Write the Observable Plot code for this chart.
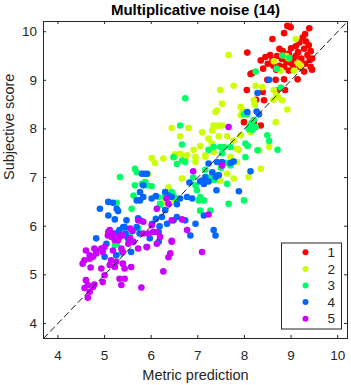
<!DOCTYPE html>
<html><head><meta charset="utf-8">
<script src="https://cdn.jsdelivr.net/npm/d3@7"></script>
<script src="https://cdn.jsdelivr.net/npm/@observablehq/plot@0.6"></script>
<style>body{margin:0;background:#fff;} svg{display:block;}</style>
</head><body><div id="chart"></div>
<script>
const title = "Multiplicative noise (14)";
const xLabel = "Metric prediction";
const yLabel = "Subjective score";
const categories = ["1","2","3","4","5"];
const colors = ["#ff0000","#ccff00","#00ff66","#0066ff","#cc00ff"];
const xTicks = [4,5,6,7,8,9,10];
const yTicks = [4,5,6,7,8,9,10];
const axisLimits = [3.69, 10.21];

const series1 = [[8.92,10.12],[8.99,10.09],[8.85,9.97],[9.39,10.07],[8.60,9.85],[9.30,9.95],[9.25,9.88],[9.32,9.80],[9.18,9.78],[9.38,9.72],[9.10,9.70],[9.00,9.66],[9.28,9.65],[9.42,9.60],[9.15,9.58],[8.06,9.57],[8.95,9.55],[9.35,9.52],[8.55,9.52],[8.45,9.48],[8.70,9.50],[8.80,9.44],[9.05,9.45],[9.22,9.45],[9.40,9.42],[8.90,9.38],[9.00,9.35],[9.15,9.36],[9.30,9.34],[8.35,9.41],[8.50,9.34],[8.62,9.30],[8.75,9.30],[8.85,9.28],[9.05,9.28],[9.20,9.27],[9.42,9.28],[9.45,9.22],[8.68,9.22],[8.95,9.20],[9.28,9.18],[8.40,9.24],[8.17,9.15],[8.49,9.01],[8.67,9.01],[8.85,9.02],[9.14,9.02],[8.05,8.80],[8.69,8.79],[8.87,8.80],[8.39,8.76],[8.25,8.60],[8.42,8.59],[8.20,8.14],[8.35,8.07],[7.99,8.14],[8.13,9.13],[8.75,9.65],[8.60,9.42],[9.45,9.45],[9.10,9.50],[8.82,9.60]];
const series2 = [[9.10,9.85],[7.66,9.52],[8.63,9.39],[9.06,9.20],[9.21,9.30],[8.78,9.20],[8.90,9.50],[8.95,9.45],[9.15,9.35],[8.24,8.89],[7.77,8.89],[7.48,8.80],[8.38,8.86],[8.63,8.80],[8.68,8.70],[8.62,8.60],[8.81,8.59],[8.72,8.65],[7.52,8.52],[7.41,8.38],[7.38,8.35],[8.20,8.59],[8.22,8.50],[7.92,8.45],[7.95,8.40],[8.92,8.40],[8.67,8.14],[7.45,8.07],[7.52,8.07],[7.34,8.07],[7.31,7.97],[7.23,7.80],[7.45,7.85],[7.63,7.85],[7.77,7.76],[7.92,7.87],[7.84,7.59],[7.34,7.52],[7.16,7.43],[8.53,7.63],[8.13,7.93],[7.88,7.57],[7.92,8.28],[6.44,8.02],[6.80,8.02],[6.62,7.85],[7.09,7.93],[7.38,8.06],[6.91,7.57],[6.51,7.48],[6.26,7.39],[6.73,7.39],[6.01,7.40],[6.08,7.30],[6.48,7.42],[6.62,7.49],[6.77,7.46],[6.95,7.42],[7.16,7.46],[6.95,7.32],[7.70,7.42],[7.84,7.32],[8.31,7.56],[8.35,7.18],[6.66,6.98],[7.48,6.94],[5.89,7.07],[5.93,7.07],[6.37,6.80],[6.30,6.50],[6.51,6.53],[7.63,7.08],[7.77,6.98],[8.09,7.01],[7.05,7.65],[7.30,7.70]];
const series3 = [[8.81,9.51],[8.96,9.46],[8.69,9.24],[8.24,9.18],[8.78,8.85],[6.73,8.63],[8.06,8.31],[8.20,8.19],[8.13,8.07],[8.24,8.04],[8.09,8.00],[7.99,8.30],[8.15,8.12],[8.17,7.98],[6.62,8.07],[8.49,7.87],[8.53,7.75],[8.28,7.56],[8.71,7.57],[7.48,7.63],[7.56,7.63],[7.23,7.57],[8.02,7.70],[8.02,7.42],[6.66,7.68],[7.34,7.63],[7.52,7.50],[7.70,7.63],[6.48,7.42],[6.55,7.28],[6.66,7.35],[6.73,7.32],[5.65,7.18],[5.69,7.11],[5.33,7.01],[5.87,6.91],[5.91,6.84],[5.65,6.84],[5.62,6.63],[5.58,6.36],[5.26,6.48],[6.19,6.46],[6.44,6.70],[6.48,6.62],[6.55,6.55],[6.95,6.84],[6.98,6.74],[7.05,6.60],[7.13,6.53],[7.02,6.53],[7.05,6.32],[7.27,6.32],[7.16,7.16],[7.25,7.00],[7.35,6.95],[7.40,7.05],[7.63,6.87],[7.99,6.53],[7.66,6.46],[5.80,6.87],[6.01,6.82],[6.19,6.43],[5.22,5.61],[5.72,5.96],[5.54,5.81],[5.36,5.44],[5.26,5.64],[7.50,7.20],[7.60,7.30],[7.70,7.25],[8.07,7.65],[6.90,7.00],[6.15,6.60],[6.30,6.60]];
const series4 = [[8.53,9.01],[8.28,8.74],[8.26,8.36],[8.31,8.30],[8.06,8.35],[7.23,7.29],[7.41,7.32],[7.52,7.32],[7.77,7.33],[7.31,7.11],[7.38,7.01],[7.45,7.05],[7.23,6.92],[7.13,6.87],[7.05,6.92],[8.13,7.13],[7.88,6.72],[7.40,6.74],[6.82,6.90],[5.80,7.08],[5.85,7.08],[5.91,7.08],[5.83,6.84],[5.76,6.70],[5.08,6.50],[5.18,6.48],[5.26,6.36],[5.29,6.31],[4.90,6.36],[5.08,6.22],[5.22,6.14],[5.69,6.53],[5.76,6.53],[5.83,6.60],[6.01,6.57],[6.10,6.62],[6.30,6.70],[6.37,6.63],[6.44,6.60],[6.62,6.57],[6.77,6.60],[6.88,6.57],[6.30,6.33],[6.23,6.19],[6.34,6.05],[6.02,6.05],[6.10,6.15],[6.18,6.00],[5.72,6.16],[5.76,6.12],[5.69,5.98],[5.47,6.12],[5.40,5.98],[5.20,5.85],[5.30,5.88],[5.45,5.85],[6.73,6.12],[6.55,6.19],[6.48,6.12],[6.95,6.05],[7.13,6.22],[7.34,5.92],[7.38,5.81],[6.84,5.81],[6.16,5.88],[4.82,5.75],[5.32,5.92],[5.43,5.98],[5.50,5.75],[5.90,5.57],[5.57,5.47],[5.25,5.40],[5.00,5.37],[4.82,5.50],[5.97,5.75],[5.75,5.85],[5.04,5.64],[6.16,5.68],[7.09,6.94],[7.16,7.01],[7.70,7.30],[6.55,6.45]];
const series5 = [[7.66,8.04],[6.90,7.13],[7.52,7.25],[6.33,6.57],[6.12,6.36],[6.66,6.14],[7.23,6.24],[6.77,5.92],[6.44,5.70],[6.37,6.46],[6.44,6.12],[7.09,5.47],[6.26,5.07],[6.37,5.36],[6.41,5.44],[6.44,5.68],[6.12,5.64],[5.72,6.12],[5.83,6.09],[6.01,6.02],[6.12,5.88],[5.94,5.85],[6.19,5.78],[5.55,5.75],[5.62,5.68],[5.51,5.64],[5.33,5.81],[5.29,5.71],[5.08,5.88],[5.15,5.78],[5.72,5.54],[5.91,5.57],[5.11,5.92],[5.07,5.81],[5.18,5.83],[5.32,5.78],[5.39,5.81],[5.54,5.71],[5.22,5.71],[5.83,5.85],[6.04,5.88],[5.00,5.57],[4.93,5.54],[4.96,5.47],[4.78,5.54],[4.82,5.44],[4.60,5.50],[4.68,5.40],[4.75,5.37],[4.57,5.30],[4.68,5.33],[4.53,5.23],[5.18,5.50],[5.36,5.54],[5.39,5.47],[5.14,5.30],[5.25,5.27],[5.11,5.20],[5.22,5.16],[5.39,5.23],[5.43,5.13],[5.57,5.16],[4.93,5.13],[5.00,4.99],[4.96,4.85],[4.60,4.89],[4.57,4.73],[4.64,4.79],[4.75,4.75],[4.78,4.80],[4.68,4.65],[4.64,4.53],[5.32,4.92],[5.43,4.92],[5.36,4.79],[5.79,4.74],[4.70,5.15],[5.55,5.95],[5.60,5.90]];

const allSeries = [series1, series2, series3, series4, series5];
const points = allSeries.flatMap((s, i) => s.map(([x, y]) => ({x, y, cat: categories[i]})));

const W = 351, H = 385;
const mT = 21, mB = 47, mL = 43, mR = 4;
const frameH = H - mT - mB, frameW = W - mL - mR;
const ink = "#262626";
const fmt = d => String(d);

const chart = Plot.plot({
  width: W, height: H,
  marginTop: mT, marginBottom: mB, marginLeft: mL, marginRight: mR,
  style: {fontFamily: "'Liberation Sans', Arial, sans-serif", fontSize: "13px", color: ink, background: "#fff", overflow: "visible"},
  x: {domain: axisLimits, ticks: xTicks, tickFormat: fmt, label: null},
  y: {domain: axisLimits, ticks: yTicks, tickFormat: fmt, label: null},
  color: {domain: categories, range: colors},
  marks: [
    Plot.dot(points, {x: "x", y: "y", fill: "cat", r: 3.3, stroke: "none"}),
    Plot.line(axisLimits, {x: d => d, y: d => d, stroke: "#000", strokeWidth: 0.9, strokeDasharray: "6,4"}),
    Plot.frame({stroke: ink, strokeWidth: 1}),
    Plot.tickX(xTicks, {x: d => d, insetTop: frameH - 3, stroke: ink}),
    Plot.tickX(xTicks, {x: d => d, insetBottom: frameH - 3, stroke: ink}),
    Plot.tickY(yTicks, {y: d => d, insetRight: frameW - 3, stroke: ink}),
    Plot.tickY(yTicks, {y: d => d, insetLeft: frameW - 3, stroke: ink}),
    Plot.axisX({ticks: xTicks, tickFormat: fmt, tickSize: 0, tickPadding: 12, fontSize: 13.5, label: null}),
    Plot.axisY({ticks: yTicks, tickFormat: fmt, tickSize: 0, tickPadding: 6.5, fontSize: 13.5, label: null}),
    Plot.text([xLabel], {frameAnchor: "bottom", lineAnchor: "middle", dy: 37, fontSize: 14.5, fill: ink}),
    Plot.text([yLabel], {frameAnchor: "left", dx: -34, rotate: -90, fontSize: 14.5, fill: ink}),
    Plot.text([title], {frameAnchor: "top", lineAnchor: "middle", dy: -11, fontSize: 15, fontWeight: "bold", fill: "#000"})
  ]
});

// legend (inside plot, bottom-right)
const svg = d3.select(chart);
const lg = svg.append("g").attr("transform", `translate(${W - mR - 66},${H - mB - 95.5})`);
lg.append("rect").attr("x", 0.5).attr("y", 0.5).attr("width", 60).attr("height", 86)
  .attr("fill", "#fff").attr("stroke", ink).attr("stroke-width", 1);
categories.forEach((c, i) => {
  const cy = 9.8 + i * 16.6;
  lg.append("circle").attr("cx", 24.5).attr("cy", cy).attr("r", 3).attr("fill", colors[i]);
  lg.append("text").attr("x", 54).attr("y", cy).attr("dy", "0.35em").attr("text-anchor", "end")
    .attr("font-size", 13.5).attr("fill", ink).text(c);
});

document.getElementById("chart").append(chart);
</script>
</body></html>
